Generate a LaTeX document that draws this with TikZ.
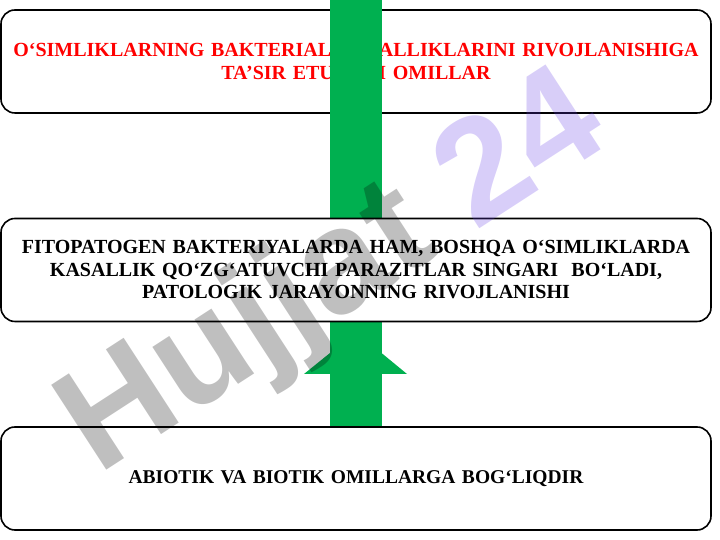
\documentclass[tikz,border=0pt]{standalone}
\usepackage{fontspec}
\setmainfont{Liberation Serif}
\newfontfamily\wmfont{Liberation Sans}
\usepackage{xcolor}
\usetikzlibrary{positioning}
\definecolor{arrowgreen}{RGB}{0,176,80}
\definecolor{wmpurple}{RGB}{100,60,230}

\begin{document}
\begin{tikzpicture}[x=1bp,y=1bp,
    box/.style={draw,fill=white,rounded corners=14bp,line width=1.6bp,minimum width=710bp,minimum height=103bp,text width=700bp,align=center,font=\fontsize{20bp}{22.5bp}\selectfont\bfseries},
    small/.style={font=\fontsize{19.5bp}{22.5bp}\selectfont\bfseries},
    wm/.style={font=\wmfont\bfseries\fontsize{147bp}{147bp}\selectfont,rotate=33,opacity=0.25}]
    \useasboundingbox (0,0) rectangle (720,540);
    \node[box,text=red] (top) at (356,478.5) {O‘SIMLIKLARNING BAKTERIAL KASALLIKLARINI RIVOJLANISHIGA\\TA’SIR ETUVCHI OMILLAR};
    \node[box,small] (bot) at (356,61.5) {ABIOTIK VA BIOTIK OMILLARGA BOG‘LIQDIR};

    % green arrow, drawn over the top box and under the middle one
    \coordinate (bartop) at (356,540);
    \coordinate (tip) at (356,208);
    \draw[arrowgreen,line width=52bp] (bot.north) -- (bartop);
    \fill[arrowgreen] (tip) -- ++(-52,-42) -- ++(103,0) -- cycle;

    \node[box] (mid) at (356,270) {FITOPATOGEN BAKTERIYALARDA HAM, BOSHQA O‘SIMLIKLARDA\\KASALLIK QO‘ZG‘ATUVCHI PARAZITLAR SINGARI\ \ BO‘LADI,\\PATOLOGIK JARAYONNING RIVOJLANISHI};

    % watermark
    \node[wm] (mark) at (335,263) {Hujjat {\color{wmpurple}24}};
\end{tikzpicture}
\end{document}
